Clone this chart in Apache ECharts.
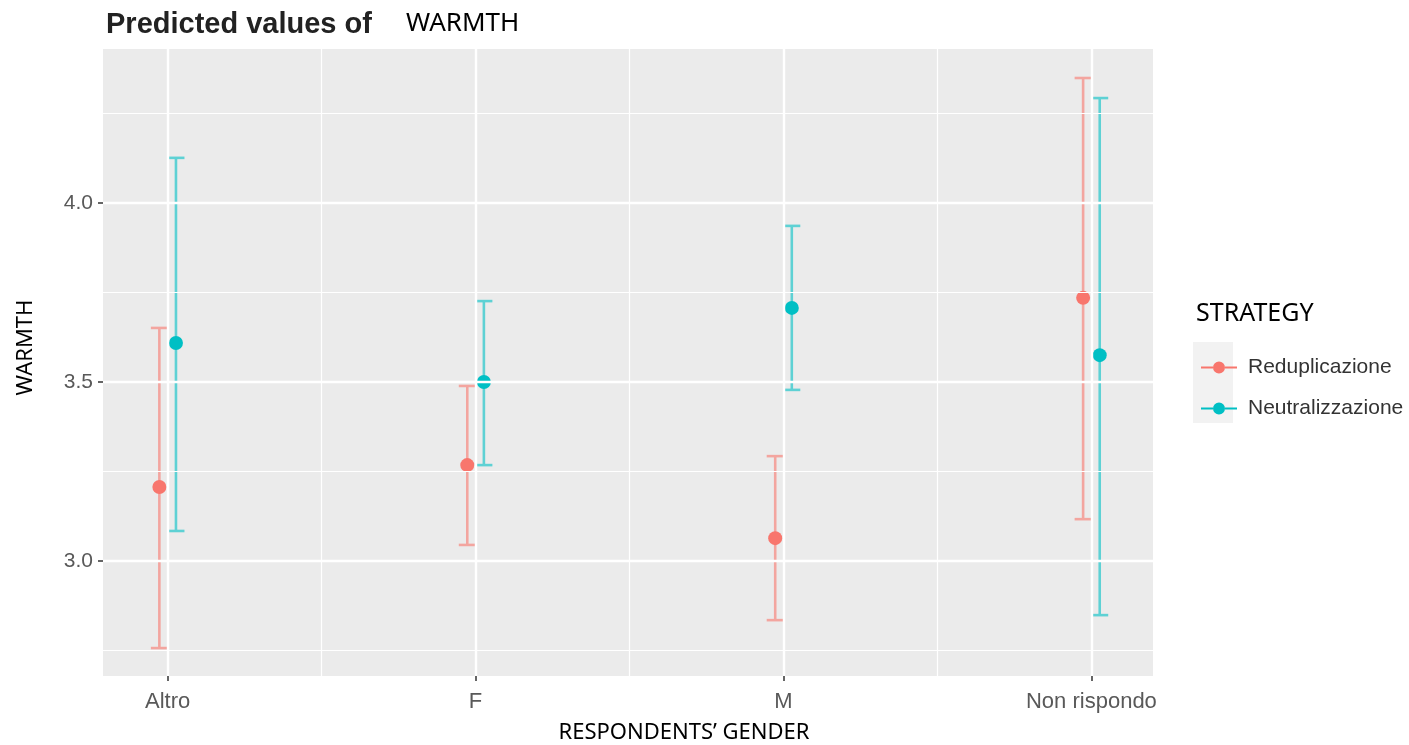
<!DOCTYPE html>
<html>
<head>
<meta charset="utf-8">
<title>Predicted values of WARMTH</title>
<script src="https://cdn.jsdelivr.net/npm/echarts@6/dist/echarts.min.js"></script>
<style>
  html, body { margin: 0; padding: 0; background: #fff; }
  #chart { width: 1409px; height: 745px; }
</style>
</head>
<body>
<div id="chart"></div>
<script>
// categorie sull'asse x
const genders = ['Altro', 'F', 'M', 'Non rispondo']
const strategies = ['Reduplicazione', 'Neutralizzazione']

// valori previsti e intervalli di confidenza
const redupEst = [3.207, 3.268, 3.064, 3.735]
const redupLow = [2.757, 3.045, 2.835, 3.117]
const redupHigh = [3.651, 3.489, 3.293, 4.349]

const neutEst = [3.609, 3.500, 3.707, 3.575]
const neutLow = [3.084, 3.268, 3.478, 2.849]
const neutHigh = [4.126, 3.726, 3.936, 4.293]

// tick dell'asse y
const yTicks = [3.0, 3.5, 4.0]
const yMinor = [2.75, 3.25, 3.75, 4.25]

const colors = ['#F8766D', '#00BFC4']
const barColors = ['#F3A59F', '#5ED1D4']
const dodge = 8.3 // px
const textGrey = '#595959'

const xPos = genders.map((g, i) => i + 1)
const xMinor = xPos.slice(0, -1).map(v => v + 0.5)

function errorBar(offset, color) {
  return function(params, api) {
    const x = api.value(0)
    const pLow = api.coord([x, api.value(1)])
    const pHigh = api.coord([x, api.value(2)])
    const cx = pLow[0] + offset
    const half = 8.5
    const style = { stroke: color, lineWidth: 2.6, fill: null }
    return {
      type: 'group',
      children: [
        { type: 'line', shape: { x1: cx, y1: pLow[1], x2: cx, y2: pHigh[1] }, style },
        { type: 'line', shape: { x1: cx - half, y1: pHigh[1], x2: cx + half, y2: pHigh[1] }, style },
        { type: 'line', shape: { x1: cx - half, y1: pLow[1], x2: cx + half, y2: pLow[1] }, style }
      ]
    }
  }
}

const gridLine = (w) => ({ color: '#ffffff', width: w, type: 'solid', opacity: 1 })

const chart = echarts.init(document.getElementById('chart'))
const option = {
  animation: false,
  title: [
    {
      text: 'Predicted values of',
      left: 101, top: 5,
      textStyle: { fontFamily: 'Liberation Sans', fontWeight: 'bold', fontSize: 29, color: '#222' }
    },
    {
      text: 'WARMTH',
      left: 401, top: 6,
      textStyle: { fontFamily: 'Noto Sans', fontWeight: 'normal', fontSize: 26, color: '#000' }
    },
    {
      text: 'STRATEGY',
      left: 1191, top: 296,
      textStyle: { fontFamily: 'Noto Sans', fontWeight: 'normal', fontSize: 25, color: '#000' }
    }
  ],
  graphic: [{
    type: 'rect',
    left: 1193, top: 342,
    shape: { width: 40, height: 81 },
    style: { fill: '#F2F2F2' },
    z: -1
  }],
  legend: {
    data: strategies,
    orient: 'vertical',
    left: 1196, top: 352,
    itemWidth: 36, itemHeight: 14, itemGap: 20,
    icon: 'path://M0,6h12v2h-12zM24,6h12v2h-12zM12,7a6,6 0 1 1 12,0a6,6 0 1 1 -12,0z',
    textStyle: { fontFamily: 'Liberation Sans', fontSize: 21, color: '#333', padding: [0, 0, 0, 6] }
  },
  grid: {
    left: 103, right: 256, top: 49, bottom: 69,
    outerBoundsMode: 'none',
    show: true, backgroundColor: '#EBEBEB', borderWidth: 0
  },
  xAxis: {
    type: 'value',
    min: 0.79, max: 4.2,
    name: 'RESPONDENTS’ GENDER',
    nameLocation: 'middle',
    nameGap: 46,
    nameTextStyle: { fontFamily: 'Noto Sans', fontSize: 22, color: '#000', padding: [0, 0, 0, 112] },
    axisLine: { show: false },
    axisTick: { show: true, length: 5, lineStyle: { color: '#333', width: 1.5 }, customValues: xPos },
    axisLabel: {
      customValues: xPos,
      margin: 15,
      fontFamily: 'Liberation Sans', fontSize: 22, color: textGrey,
      formatter: v => genders[Math.round(v) - 1] || ''
    },
    splitLine: { show: false }
  },
  yAxis: {
    type: 'value',
    min: 2.679, max: 4.43,
    name: 'WARMTH',
    nameLocation: 'middle',
    nameRotate: 90,
    nameGap: 66,
    nameTextStyle: { fontFamily: 'Noto Sans', fontSize: 22, color: '#000', padding: [0, 0, 0, 30] },
    axisLine: { show: false },
    axisTick: { show: true, length: 5, lineStyle: { color: '#333', width: 1.5 }, customValues: yTicks },
    axisLabel: {
      customValues: yTicks,
      margin: 10,
      fontFamily: 'Liberation Sans', fontSize: 21, color: textGrey,
      formatter: v => v.toFixed(1)
    },
    splitLine: { show: false }
  },
  series: [
    {
      // griglia di sfondo
      name: 'grid',
      type: 'scatter',
      data: [],
      z: 1,
      silent: true,
      markLine: {
        silent: true,
        symbol: 'none',
        label: { show: false },
        emphasis: { disabled: true },
        data: [
          ...xMinor.map(v => ({ xAxis: v, lineStyle: gridLine(1.2) })),
          ...yMinor.map(v => ({ yAxis: v, lineStyle: gridLine(1.2) })),
          ...xPos.map(v => ({ xAxis: v, lineStyle: gridLine(2.4) })),
          ...yTicks.map(v => ({ yAxis: v, lineStyle: gridLine(2.4) }))
        ]
      }
    },
    {
      name: strategies[0] + ' CI',
      type: 'custom',
      z: 3,
      renderItem: errorBar(-dodge, barColors[0]),
      data: xPos.map((x, i) => [x, redupLow[i], redupHigh[i]])
    },
    {
      name: strategies[1] + ' CI',
      type: 'custom',
      z: 3,
      renderItem: errorBar(dodge, barColors[1]),
      data: xPos.map((x, i) => [x, neutLow[i], neutHigh[i]])
    },
    {
      name: strategies[0],
      type: 'scatter',
      z: 4,
      symbolSize: 14,
      symbolOffset: [-dodge, 0],
      itemStyle: { color: colors[0], opacity: 1 },
      data: xPos.map((x, i) => [x, redupEst[i]])
    },
    {
      name: strategies[1],
      type: 'scatter',
      z: 4,
      symbolSize: 14,
      symbolOffset: [dodge, 0],
      itemStyle: { color: colors[1], opacity: 1 },
      data: xPos.map((x, i) => [x, neutEst[i]])
    }
  ]
}
chart.setOption(option)
</script>
</body>
</html>
